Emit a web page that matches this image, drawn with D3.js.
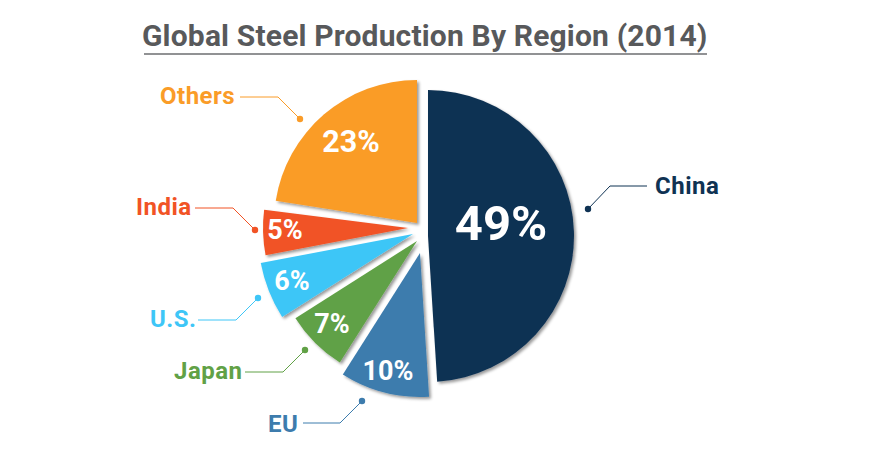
<!DOCTYPE html>
<html>
<head>
    <title>Global Steel Production By Region (2014)</title>
    <script src="https://d3js.org/d3.v7.min.js"></script>
    <style>
        html, body { margin: 0; padding: 0; background: #fff; }
        svg { display: block; }
        text { font-family: Roboto, sans-serif; font-weight: 700; }
        .title { fill: #58595b; font-size: 30px; letter-spacing: 0.17px; }
        .name { font-size: 24px; letter-spacing: 0.5px; }
        .pct { fill: #fff; text-anchor: middle; }
    </style>
</head>
<body>
    <div id="chart"></div>
    <script>
        const width = 869;
        const height = 451;

        // Values, clockwise from 12 o'clock
        const regions = ["China", "EU", "Japan", "U.S.", "India", "Others"];
        const shares = [49, 10, 7, 6, 5, 23];
        const colors = ["#0f3253", "#3d7cad", "#61a146", "#3ec6f7", "#f15325", "#fa9c28"];

        // Hand placed layout, the slices are pulled apart by different amounts
        const sliceCenters = [[428, 236], [420, 253], [417, 241], [413, 234], [408, 228], [417, 223]];
        const sliceRadius = [146, 144, 144, 155, 145, 143];
        // trims the lower edge of Others, which sits a little higher in the picture
        const startTrim = [0, 0, 0, 0, 0, 0.03];
        const pctPos = [[501, 240], [388, 380], [332, 333], [292, 290], [285, 239], [351, 152]];
        const pctSize = [49, 27, 27, 27, 27, 30.5];
        const labelPos = [[655, 194], [268, 432], [174, 379], [150, 327], [136, 215], [160, 104]];
        const leaders = [
            [[647, 186], [610, 186], [588, 209]],
            [[303, 423], [340, 423], [362, 401]],
            [[245, 372], [283, 372], [305, 350]],
            [[198, 320], [236, 320], [258, 298]],
            [[195, 208], [233, 208], [255, 230]],
            [[240, 97], [278, 97], [300, 119]]
        ];

        const color = d3.scaleOrdinal().domain(regions).range(colors);

        const svg = d3.select("#chart")
            .append("svg")
            .attr("width", width)
            .attr("height", height);

        const shadow = svg.append("defs").append("filter")
            .attr("id", "shadow")
            .attr("x", "-10%").attr("y", "-10%")
            .attr("width", "120%").attr("height", "120%");
        shadow.append("feDropShadow")
            .attr("dx", 2).attr("dy", 2)
            .attr("stdDeviation", 1.6)
            .attr("flood-color", "#000")
            .attr("flood-opacity", 0.4);

        // Title
        svg.append("text")
            .attr("class", "title")
            .attr("x", 142)
            .attr("y", 46)
            .text("Global Steel Production By Region (2014)");
        svg.append("line")
            .attr("x1", 144).attr("x2", 707)
            .attr("y1", 54).attr("y2", 54)
            .attr("stroke", "#6d6e70")
            .attr("stroke-width", 1.4);

        // Slices
        const pie = d3.pie().sort(null);
        const arcs = pie(shares);
        const arc = d3.arc().innerRadius(0);

        svg.append("g")
            .selectAll("path")
            .data(arcs)
            .join("path")
            .attr("transform", (d, i) => `translate(${sliceCenters[i]})`)
            .attr("d", (d, i) => arc.outerRadius(sliceRadius[i])({
                startAngle: d.startAngle + startTrim[i],
                endAngle: d.endAngle
            }))
            .attr("fill", (d, i) => color(regions[i]))
            .attr("filter", "url(#shadow)");

        // Percent labels
        svg.append("g")
            .selectAll("text")
            .data(shares)
            .join("text")
            .attr("class", "pct")
            .attr("x", (d, i) => pctPos[i][0])
            .attr("y", (d, i) => pctPos[i][1])
            .attr("font-size", (d, i) => pctSize[i])
            .text(d => d + "%");

        // Leader lines, end dots and region names
        const line = d3.line();
        const callout = svg.append("g")
            .selectAll("g")
            .data(regions)
            .join("g")
            .attr("fill", d => color(d));

        callout.append("path")
            .attr("d", (d, i) => line(leaders[i]))
            .attr("fill", "none")
            .attr("stroke", d => color(d))
            .attr("stroke-width", 1);
        callout.append("circle")
            .attr("cx", (d, i) => leaders[i][2][0])
            .attr("cy", (d, i) => leaders[i][2][1])
            .attr("r", 3.2);
        callout.append("text")
            .attr("class", "name")
            .attr("x", (d, i) => labelPos[i][0])
            .attr("y", (d, i) => labelPos[i][1])
            .text(d => d);
    </script>
</body>
</html>
